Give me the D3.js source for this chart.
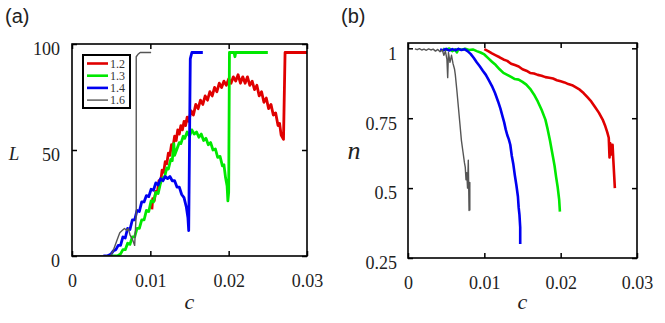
<!DOCTYPE html>
<html>
<head>
<meta charset="utf-8">
<script src="https://cdn.jsdelivr.net/npm/d3@7"></script>
<style>
  body { margin: 0; background: #fff; }
  svg { display: block; }
</style>
</head>
<body>
<svg id="chart" width="665" height="323"></svg>
<script>
// ---- data ----
const seriesNames = ['1.2', '1.3', '1.4', '1.6'];
const seriesColors = ['#e00000', '#00e800', '#0000f0', '#555555'];

const xTicks = [0, 0.01, 0.02, 0.03];
const lTicks = [0, 50, 100];
const nTicks = [0.25, 0.5, 0.75, 1];

// panel (a): L vs c
const L_12 = [[0.0102,22],[0.0103,27],[0.0105,26],[0.0107,30.5],[0.0109,30],[0.0111,35.5],[0.0113,34.5],[0.0115,40.5],[0.0117,39.5],[0.0119,44.5],[0.0121,43.5],[0.0123,48.5],[0.0125,47.5],[0.0127,52.5],[0.0129,51.5],[0.0131,56.5],[0.0133,54.5],[0.0135,59.5],[0.0137,57.5],[0.0139,61.5],[0.0141,59.5],[0.0143,63.5],[0.0145,61.5],[0.0147,65.5],[0.0149,63.5],[0.0152,68.5],[0.0155,66.5],[0.0158,71.5],[0.0161,69.5],[0.0164,73.5],[0.0167,71.5],[0.0170,75.5],[0.0173,73.5],[0.0176,77.5],[0.0179,75.5],[0.0182,79.5],[0.0185,77.5],[0.0188,81.5],[0.0191,79.5],[0.0194,82.5],[0.0197,80.5],[0.0200,83.5],[0.0203,81.5],[0.0206,84.5],[0.0209,82.5],[0.0212,85.5],[0.0215,81.5],[0.0218,84.5],[0.0221,81.5],[0.0224,84.5],[0.0227,80.5],[0.0230,82.5],[0.0233,78.5],[0.0236,80.5],[0.0239,75.5],[0.0242,77.5],[0.0245,72.5],[0.0248,74.5],[0.0251,69.5],[0.0254,71.5],[0.0257,66.5],[0.0260,67.5],[0.0263,61.5],[0.0265,62.5],[0.0267,57],[0.0270,55],[0.0272,96],[0.0300,96]];
const L_13 = [[0.0045,0],[0.0058,0],[0.0062,1],[0.0065,3],[0.0068,3],[0.0071,6],[0.0074,5.5],[0.0077,9],[0.0080,9],[0.0083,13],[0.0086,13],[0.0089,17],[0.0092,17],[0.0095,21.5],[0.0098,21],[0.0101,26],[0.0104,25.5],[0.0107,30],[0.0110,29.5],[0.0113,34.5],[0.0116,37],[0.0118,37],[0.0121,41.5],[0.0123,41],[0.0126,45.5],[0.0128,45],[0.0130,53],[0.0131,47.5],[0.0134,50.5],[0.0137,53.5],[0.0139,53],[0.0142,56.5],[0.0144,55.5],[0.0147,58.5],[0.0150,56.5],[0.0153,59.5],[0.0156,57.5],[0.0159,58.5],[0.0162,56],[0.0165,57.5],[0.0168,54.5],[0.0171,55.5],[0.0174,52.5],[0.0177,53.5],[0.0180,50],[0.0183,50.5],[0.0186,46.5],[0.0189,47],[0.0192,42.5],[0.0194,43],[0.0196,37],[0.0198,33],[0.0199,26],[0.0200,30],[0.0201,96],[0.0207,96],[0.0208,94],[0.0209,96],[0.0250,96]];
const L_14 = [[0.0040,0],[0.0045,0],[0.0050,1],[0.0053,2.5],[0.0056,3],[0.0059,5],[0.0062,5],[0.0065,9],[0.0068,8.5],[0.0071,13],[0.0074,12.5],[0.0077,17],[0.0080,17],[0.0083,21.5],[0.0086,21],[0.0089,25.5],[0.0092,25.5],[0.0095,28.5],[0.0098,28],[0.0101,31.5],[0.0104,31],[0.0107,34.5],[0.0110,33.5],[0.0113,36.5],[0.0116,35.5],[0.0119,37.5],[0.0122,36.5],[0.0125,37.5],[0.0128,35.5],[0.0131,35.5],[0.0134,32.5],[0.0137,32.5],[0.0140,29],[0.0143,27.5],[0.0146,23],[0.0148,18],[0.0149,12],[0.0151,93],[0.0153,96],[0.0167,96]];
const L_16 = [[0,0],[0.0049,0],[0.0052,2],[0.0055,5],[0.0058,8],[0.0061,11],[0.0064,12],[0.0067,13],[0.0070,12],[0.0072,13],[0.0074,10],[0.0077,8],[0.0080,5],[0.0082,20],[0.0082,94],[0.0084,95],[0.0087,96],[0.0101,96]];

// panel (b): n vs c
const n_12 = [[0.0100,0.997],[0.0105,0.99],[0.0110,0.982],[0.0115,0.975],[0.0120,0.968],[0.0125,0.96],[0.0130,0.955],[0.0135,0.945],[0.0140,0.94],[0.0145,0.935],[0.0150,0.925],[0.0155,0.92],[0.0160,0.912],[0.0165,0.91],[0.0170,0.905],[0.0175,0.902],[0.0180,0.897],[0.0185,0.895],[0.0190,0.892],[0.0195,0.886],[0.0200,0.882],[0.0205,0.878],[0.0210,0.872],[0.0215,0.868],[0.0220,0.86],[0.0225,0.852],[0.0230,0.84],[0.0235,0.825],[0.0240,0.81],[0.0245,0.79],[0.0250,0.77],[0.0255,0.745],[0.0258,0.725],[0.0261,0.70],[0.0263,0.68],[0.0264,0.61],[0.0265,0.66],[0.0267,0.62],[0.0268,0.655],[0.0269,0.6],[0.0270,0.55],[0.0271,0.50]];
const n_13 = [[0.0046,0.998],[0.0050,0.995],[0.0054,0.999],[0.0058,0.990],[0.0062,0.996],[0.0064,0.985],[0.0066,0.997],[0.0070,0.995],[0.0075,0.998],[0.0080,0.994],[0.0085,0.996],[0.0090,0.99],[0.0095,0.985],[0.0100,0.978],[0.0105,0.965],[0.0110,0.952],[0.0115,0.94],[0.0120,0.925],[0.0125,0.912],[0.0130,0.905],[0.0135,0.898],[0.0140,0.89],[0.0145,0.888],[0.0150,0.88],[0.0155,0.87],[0.0160,0.855],[0.0165,0.835],[0.0170,0.81],[0.0175,0.78],[0.0180,0.745],[0.0183,0.71],[0.0186,0.67],[0.0188,0.64],[0.0190,0.61],[0.0192,0.58],[0.0194,0.54],[0.0196,0.505],[0.0198,0.46],[0.0199,0.416]];
const n_14 = [[0.0042,0.996],[0.0046,0.993],[0.0050,0.998],[0.0054,0.992],[0.0058,0.997],[0.0062,0.993],[0.0066,0.998],[0.0070,0.994],[0.0074,0.997],[0.0078,0.99],[0.0082,0.98],[0.0086,0.966],[0.0090,0.95],[0.0094,0.936],[0.0098,0.92],[0.0102,0.905],[0.0106,0.885],[0.0110,0.865],[0.0114,0.84],[0.0118,0.81],[0.0121,0.785],[0.0124,0.755],[0.0126,0.735],[0.0128,0.71],[0.0130,0.69],[0.0132,0.675],[0.0134,0.655],[0.0136,0.615],[0.0138,0.585],[0.0140,0.545],[0.0142,0.51],[0.0144,0.47],[0.0145,0.43],[0.0146,0.405],[0.0147,0.36],[0.0147,0.30]];
const n_16 = [[0.0009,0.998],[0.0012,0.995],[0.0015,0.999],[0.0018,0.994],[0.0021,0.997],[0.0024,0.993],[0.0027,0.998],[0.0030,0.994],[0.0033,0.997],[0.0036,0.990],[0.0039,0.996],[0.0042,0.988],[0.0045,0.994],[0.0047,0.975],[0.0049,0.990],[0.0051,0.960],[0.0052,0.895],[0.0053,0.985],[0.0055,0.950],[0.0057,0.975],[0.0059,0.945],[0.0061,0.925],[0.0062,0.905],[0.0064,0.85],[0.0066,0.79],[0.0068,0.73],[0.0070,0.67],[0.0072,0.63],[0.0074,0.59],[0.0075,0.575],[0.0076,0.53],[0.0077,0.555],[0.0078,0.5],[0.0079,0.6],[0.0080,0.42],[0.0081,0.52],[0.0081,0.42]];

const serif = '"Liberation Serif", "DejaVu Serif", serif';

const svg = d3.select('#chart');
svg.append('rect').attr('width', 665).attr('height', 323).attr('fill', '#fff');

function drawPanel(opts) {
  const x = d3.scaleLinear().domain([0, 0.03]).range(opts.xr);
  const y = d3.scaleLinear().domain(opts.yd).range(opts.yr);
  const g = svg.append('g');

  const line = d3.line().x(d => x(d[0])).y(d => y(d[1]));

  // clip to the frame
  g.append('clipPath').attr('id', 'clip' + opts.id)
    .append('rect')
    .attr('x', opts.xr[0]).attr('y', opts.yr[1])
    .attr('width', opts.xr[1] - opts.xr[0]).attr('height', opts.yr[0] - opts.yr[1]);

  const lines = g.append('g').attr('clip-path', `url(#clip${opts.id})`);
  opts.series.forEach((s, i) => {
    lines.append('path')
      .datum(s)
      .attr('fill', 'none')
      .attr('stroke', seriesColors[i])
      .attr('stroke-width', i === 3 ? 1.4 : opts.lw)
      .attr('stroke-linejoin', 'round')
      .attr('d', line);
  });

  const tick = 5;
  const bottom = g.append('g')
    .attr('transform', `translate(0,${opts.yr[0]})`)
    .call(d3.axisBottom(x).tickValues(xTicks).tickSizeInner(-tick).tickSizeOuter(0)
      .tickPadding(18).tickFormat(d => d === 0 ? '0' : d3.format('.2f')(d)));
  const top = g.append('g')
    .attr('transform', `translate(0,${opts.yr[1]})`)
    .call(d3.axisTop(x).tickValues(xTicks).tickSizeInner(-tick).tickSizeOuter(0).tickFormat(''));
  const left = g.append('g')
    .attr('transform', `translate(${opts.xr[0]},0)`)
    .call(d3.axisLeft(y).tickValues(opts.yTicks).tickSizeInner(-tick).tickSizeOuter(0)
      .tickPadding(opts.yPad).tickFormat(opts.yFormat));
  const right = g.append('g')
    .attr('transform', `translate(${opts.xr[1]},0)`)
    .call(d3.axisRight(y).tickValues(opts.yTicks).tickSizeInner(-tick).tickSizeOuter(0).tickFormat(''));

  [bottom, top, left, right].forEach(a => {
    a.select('.domain').remove();
    a.selectAll('line').attr('stroke', '#000').attr('stroke-width', 1.5);
    a.selectAll('text')
      .style('font-family', serif).style('font-size', '18px').style('fill', '#222');
  });
  left.selectAll('text').attr('dy', '0.6em');

  g.append('rect')
    .attr('x', opts.xr[0]).attr('y', opts.yr[1])
    .attr('width', opts.xr[1] - opts.xr[0]).attr('height', opts.yr[0] - opts.yr[1])
    .attr('fill', 'none').attr('stroke', '#000').attr('stroke-width', 1.6);

  // panel tag and axis titles
  g.append('text').attr('x', opts.tagX).attr('y', 23)
    .style('font-family', '"Liberation Sans", sans-serif').style('font-size', '20px').style('fill', '#222')
    .text(opts.tag);
  g.append('text').attr('x', (opts.xr[0] + opts.xr[1]) / 2).attr('y', 309)
    .attr('text-anchor', 'middle')
    .style('font-family', serif).style('font-style', 'italic')
    .style('font-size', '22px').style('fill', '#222')
    .text('c');
  g.append('text').attr('x', opts.yTitleX).attr('y', opts.yTitleY)
    .attr('text-anchor', 'middle')
    .style('font-family', serif).style('font-style', 'italic')
    .style('font-size', opts.yTitleSize).style('fill', '#222')
    .text(opts.yTitle);

  return { x, y, g };
}

drawPanel({
  id: 'a', xr: [72, 307], yr: [256, 44], yd: [0, 100], yTicks: lTicks,
  yPad: 12, yFormat: d3.format('d'), lw: 2.8,
  series: [L_12, L_13, L_14, L_16],
  tag: '(a)', tagX: 5, yTitle: 'L', yTitleX: 14, yTitleY: 160, yTitleSize: '19px'
});

drawPanel({
  id: 'b', xr: [408, 637], yr: [258, 43], yd: [0.25, 1.019], yTicks: nTicks,
  yPad: 11, yFormat: d => d === 1 ? '1' : String(d), lw: 2.6,
  series: [n_12, n_13, n_14, n_16],
  tag: '(b)', tagX: 341, yTitle: 'n', yTitleX: 354, yTitleY: 159, yTitleSize: '26px'
});

// legend in panel (a)
const legend = svg.append('g').attr('transform', 'translate(83,55)');
legend.append('rect').attr('width', 47).attr('height', 53)
  .attr('fill', '#fff').attr('stroke', '#000').attr('stroke-width', 2);
const items = legend.selectAll('.legend-item')
  .data(seriesNames)
  .enter()
  .append('g')
  .attr('class', 'legend-item')
  .attr('transform', (d, i) => `translate(0,${8.5 + i * 12.2})`);
items.append('line')
  .attr('x1', 4).attr('x2', 25)
  .attr('stroke', (d, i) => seriesColors[i])
  .attr('stroke-width', (d, i) => i === 3 ? 1.4 : 2.6);
items.append('text')
  .attr('x', 27).attr('y', 0).attr('dy', '0.35em')
  .style('font-family', serif).style('font-size', '12px').style('fill', '#333')
  .text(d => d);
</script>
</body>
</html>
